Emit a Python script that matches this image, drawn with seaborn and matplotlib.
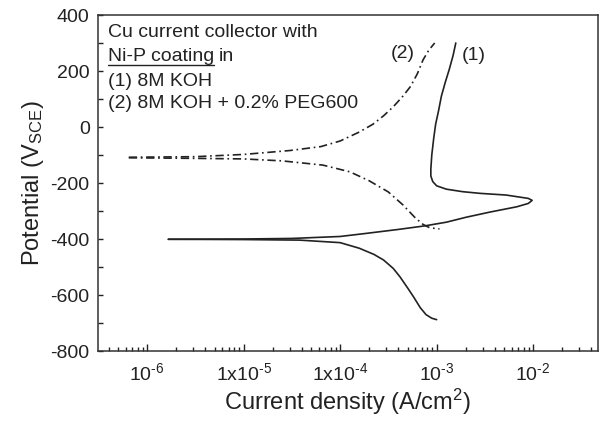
import matplotlib
matplotlib.use("Agg")
import matplotlib.pyplot as plt
import seaborn as sns
import pandas as pd
from matplotlib.ticker import LogLocator, FixedLocator, MultipleLocator, NullFormatter, FixedFormatter

# Polarization curves of Ni-P coated Cu current collector
# current density in A/cm^2, potential in mV vs SCE

# (1) 8M KOH — cathodic branch, from Ecorr downwards
koh_cath_i = [1.66e-6, 1.0e-5, 3.8e-5, 1.0e-4, 1.58e-4, 2.24e-4, 2.82e-4,
              3.55e-4, 4.17e-4, 5.01e-4, 5.75e-4, 6.76e-4, 7.76e-4, 8.91e-4, 1.0e-3]
koh_cath_e = [-401, -402, -404, -413, -433, -455, -475,
              -505, -535, -575, -606, -645, -670, -683, -688]

# (1) 8M KOH — anodic branch, active peak then passive region
koh_anod_i = [1.66e-6, 1.0e-5, 3.16e-5, 1.0e-4, 1.86e-4, 3.98e-4, 7.59e-4,
              1.26e-3, 2.04e-3, 3.55e-3, 6.76e-3, 8.91e-3, 9.77e-3, 8.91e-3,
              5.25e-3, 2.82e-3, 1.86e-3, 1.26e-3, 1.0e-3, 9.12e-4, 8.71e-4,
              8.71e-4, 8.91e-4, 9.33e-4, 9.77e-4, 1.05e-3, 1.12e-3, 1.23e-3,
              1.35e-3, 1.48e-3, 1.58e-3]
koh_anod_e = [-401, -400, -398, -391, -380, -366, -353,
              -340, -322, -304, -285, -273, -262, -255,
              -243, -237, -231, -222, -210, -195, -175,
              -150, -100, -40, 10, 60, 110, 160,
              205, 255, 300]

# (2) 8M KOH + 0.2% PEG600 — cathodic branch
peg_cath_i = [6.46e-7, 3.16e-6, 1.0e-5, 2.51e-5, 6.61e-5, 1.26e-4, 2.0e-4,
              3.16e-4, 4.47e-4, 6.03e-4, 7.24e-4, 8.51e-4, 1.07e-3]
peg_cath_e = [-110, -112, -114, -121, -136, -160, -192,
              -232, -278, -325, -348, -360, -364]

# (2) 8M KOH + 0.2% PEG600 — anodic branch
peg_anod_i = [6.46e-7, 3.16e-6, 1.0e-5, 3.02e-5, 6.31e-5, 1.0e-4, 1.58e-4,
              2.19e-4, 2.82e-4, 3.55e-4, 4.47e-4, 5.37e-4, 6.31e-4, 7.24e-4,
              8.32e-4, 9.55e-4]
peg_anod_e = [-108, -106, -98, -84, -70, -50, -18,
              10, 40, 72, 110, 145, 190, 240,
              275, 300]

x_ticks = [1e-6, 1e-5, 1e-4, 1e-3, 1e-2]
x_tick_labels = [r"$10^{\text{-6}}$", r"$1\text{x}10^{\text{-5}}$", r"$1\text{x}10^{\text{-4}}$",
                 r"$10^{\text{-3}}$", r"$10^{\text{-2}}$"]

sns.set_theme(style="ticks")
plt.rcParams["font.family"] = ["Liberation Sans", "DejaVu Sans"]
plt.rcParams["mathtext.fontset"] = "custom"
plt.rcParams["mathtext.rm"] = "Liberation Sans"
plt.rcParams["mathtext.it"] = "Liberation Sans:italic"
plt.rcParams["mathtext.bf"] = "Liberation Sans:bold"
plt.rcParams["axes.unicode_minus"] = False

ink = "#222222"
W, H = 602, 421
fig = plt.figure(figsize=(W / 100, H / 100), dpi=100)
ax = fig.add_axes([98 / W, 1 - 351 / H, 500 / W, 336 / H])

solid = dict(color=ink, linewidth=1.2)
dashdot = dict(color=ink, linewidth=1.2, linestyle=(0, (5, 2.2, 1, 2.2)))

branches = [
    (koh_cath_i, koh_cath_e, solid),
    (koh_anod_i, koh_anod_e, solid),
    (peg_cath_i, peg_cath_e, dashdot),
    (peg_anod_i, peg_anod_e, dashdot),
]
for i_vals, e_vals, style in branches:
    df = pd.DataFrame({"i": i_vals, "E": e_vals})
    sns.lineplot(data=df, x="i", y="E", sort=False, estimator=None, ax=ax, **style)

ax.set_xscale("log")
ax.set_xlim(3.1e-7, 4.7e-2)
ax.set_ylim(-800, 400)

ax.xaxis.set_major_locator(FixedLocator(x_ticks))
ax.xaxis.set_major_formatter(FixedFormatter(x_tick_labels))
ax.xaxis.set_minor_locator(LogLocator(base=10, subs=range(2, 10), numticks=20))
ax.xaxis.set_minor_formatter(NullFormatter())
ax.yaxis.set_major_locator(MultipleLocator(200))
ax.yaxis.set_minor_locator(MultipleLocator(100))

ax.tick_params(axis="both", which="both", direction="in", colors=ink,
               labelsize=14, width=1.0)
ax.tick_params(axis="x", which="major", length=5, pad=8)
ax.tick_params(axis="x", which="minor", length=2.8)
ax.tick_params(axis="y", which="major", length=3.5, pad=6)
ax.tick_params(axis="y", which="minor", length=3.5)

for s in ax.spines.values():
    s.set_color("#333333")
    s.set_linewidth(1.1)

ax.set_xlabel(r"Current density (A/cm$^{2}$)", fontsize=17, color=ink, labelpad=2)
ax.set_ylabel(r"Potential (V$_{\mathrm{SCE}}$)", fontsize=17, color=ink, labelpad=3)


def px(x, y):
    return x / W, 1 - y / H


txt = dict(fontsize=14, color=ink, transform=fig.transFigure, va="baseline", ha="left")
fig.text(*px(108, 37), "Cu current collector with", **txt)
t_ul = fig.text(*px(108, 61), "Ni-P coating", **txt)
fig.canvas.draw()
bb = t_ul.get_window_extent(renderer=fig.canvas.get_renderer())
fig.text((bb.x1 + 4) / W, 1 - 61 / H, "in", **txt)
fig.lines.append(plt.Line2D([bb.x0 / W, bb.x1 / W], [1 - 65 / H, 1 - 65 / H],
                            transform=fig.transFigure, color=ink, linewidth=1.0))
fig.text(*px(108, 86), "(1) 8M KOH", **txt)
fig.text(*px(108, 108), "(2) 8M KOH + 0.2% PEG600", **txt)

fig.text(*px(403, 54), "(2)", fontsize=14, color=ink, transform=fig.transFigure,
         ha="center", va="center")
fig.text(*px(474, 56), "(1)", fontsize=14, color=ink, transform=fig.transFigure,
         ha="center", va="center")

fig.savefig("out.png", dpi=100)
